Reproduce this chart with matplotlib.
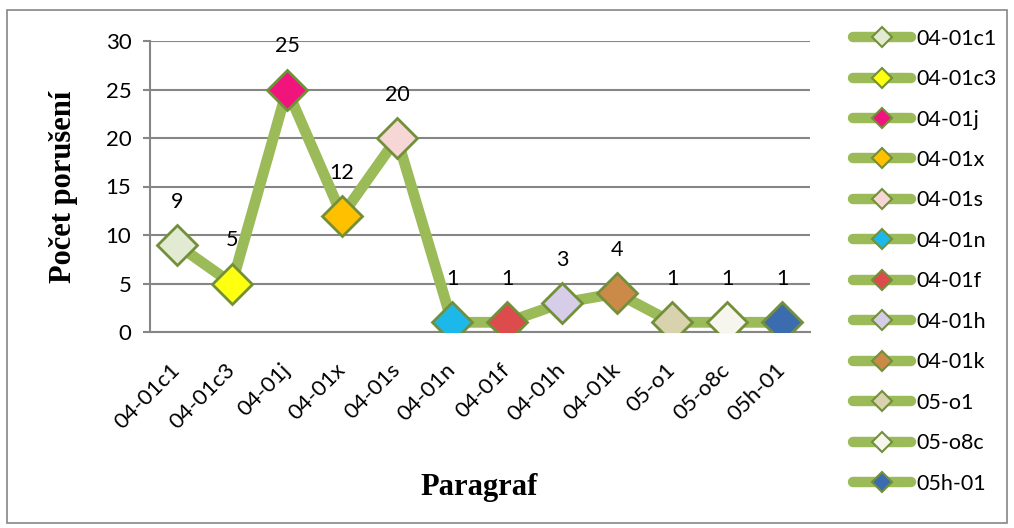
import matplotlib.pyplot as plt
from matplotlib.lines import Line2D
from matplotlib.patches import Rectangle

paragraphs = ["04-01c1", "04-01c3", "04-01j", "04-01x", "04-01s", "04-01n",
              "04-01f", "04-01h", "04-01k", "05-o1", "05-o8c", "05h-01"]
counts = [9, 5, 25, 12, 20, 1, 1, 3, 4, 1, 1, 1]
point_colors = ["#E2EAD2", "#FFFF10", "#F0147C", "#FFC000", "#F7D6D6", "#1CB8EA",
                "#DC4C4C", "#D6CEE8", "#CC8A48", "#D8D2AE", "#F6F6EE", "#3C6CB0"]

line_green = "#9BBB59"
edge_green = "#728F3A"
grid_gray = "#868686"

fig = plt.figure(figsize=(10.14, 5.28), dpi=100)
ax = fig.add_axes([149.5 / 1014, 1 - 332 / 528, 660 / 1014, 291 / 528])

x = list(range(len(paragraphs)))
ax.plot(x, counts, color=line_green, linewidth=7.8, solid_joinstyle="miter",
        solid_capstyle="butt", zorder=2)
for i, (v, c) in enumerate(zip(counts, point_colors)):
    ax.plot(i, v, marker="D", markersize=20, markerfacecolor=c,
            markeredgecolor=edge_green, markeredgewidth=2, zorder=3)
    ax.annotate(str(v), (i, v), xytext=(0, 31), textcoords="offset points",
                ha="center", va="center", fontsize=15.5, family="Lato")

ax.set_xlim(-0.5, len(paragraphs) - 0.5)
ax.set_ylim(0, 30)
ax.set_yticks(range(0, 31, 5))
ax.yaxis.grid(True, color=grid_gray, linewidth=1.5)
ax.set_axisbelow(True)
for side in ["top", "right"]:
    ax.spines[side].set_visible(False)
ax.spines["left"].set_color(grid_gray)
ax.spines["bottom"].set_color(grid_gray)
ax.spines["left"].set_linewidth(1.5)
ax.spines["bottom"].set_linewidth(1.5)
ax.tick_params(axis="y", length=5, width=1.5, color=grid_gray, labelsize=16, pad=8)
ax.tick_params(axis="x", length=0, pad=25)
ax.set_xticks(x)
ax.set_xticklabels(paragraphs, rotation=45, ha="right", va="center",
                   rotation_mode="anchor", fontsize=16)
for lab in ax.get_xticklabels() + ax.get_yticklabels():
    lab.set_family("Lato")
ax.set_ylabel("Počet porušení", family="Liberation Serif", fontweight="bold",
              fontsize=22, labelpad=20)
fig.text(479 / 1014, 1 - 487 / 528, "Paragraf", family="Liberation Serif",
         fontweight="bold", fontsize=22, ha="center", va="center")

# legend: one entry per point, like the spreadsheet original
handles = [Line2D([], [], color=line_green, linewidth=7.5, marker="D", markersize=10.5,
                  markerfacecolor=c, markeredgecolor=edge_green, markeredgewidth=1.5,
                  solid_capstyle="round")
           for c in point_colors]
fig.legend(handles, paragraphs, loc="upper left", bbox_to_anchor=(844 / 1014, 1 - 20 / 528),
           frameon=False, prop={"family": "Lato", "size": 15.5}, handlelength=2.7,
           handletextpad=0.25, labelspacing=0.95, borderaxespad=0)

fig.patches.append(Rectangle((7 / 1014, 5 / 528), 1000 / 1014, 513 / 528,
                             transform=fig.transFigure, fill=False,
                             edgecolor=grid_gray, linewidth=1.2))

fig.savefig("out.png", dpi=100)
